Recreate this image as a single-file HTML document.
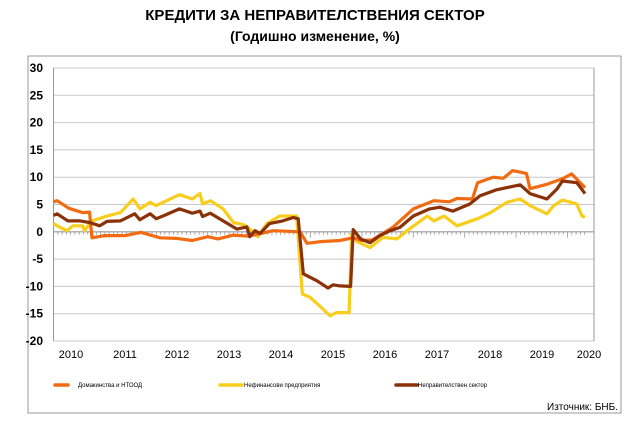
<!DOCTYPE html>
<html><head><meta charset="utf-8"><style>
body{margin:0;background:#fff;width:630px;height:422px;overflow:hidden;font-family:"Liberation Sans","Noto Sans CJK SC",sans-serif}
</style></head><body>
<svg id="c" width="630" height="422" xmlns="http://www.w3.org/2000/svg" font-family="Liberation Sans, sans-serif">
<text x="315" y="20" text-anchor="middle" font-weight="bold" font-size="15">КРЕДИТИ ЗА НЕПРАВИТЕЛСТВЕНИЯ СЕКТОР</text>
<text x="315" y="41" text-anchor="middle" font-weight="bold" font-size="14">(Годишно изменение, %)</text>
<rect x="28" y="56" width="593" height="357" fill="none" stroke="#999" stroke-width="1"/>
<g id="grid"></g><g id="axes"></g><g id="series"></g>
<g font-size="6">
<line x1="55" y1="385" x2="68" y2="385" stroke="#f26b12" stroke-width="3.5" stroke-linecap="round"/>
<text x="78" y="387">Домакинства и НТООД</text>
<line x1="220" y1="385" x2="242" y2="385" stroke="#f9cd1b" stroke-width="3.5" stroke-linecap="round"/>
<text x="244" y="387">Нефинансови предприятия</text>
<line x1="396" y1="385" x2="417" y2="385" stroke="#8b3108" stroke-width="3.5" stroke-linecap="round"/>
<text x="418" y="387">Неправителствен сектор</text>
</g>
<text x="618" y="410" text-anchor="end" font-size="10">Източник: БНБ.</text>
</svg>
<script>
const yTicks=[30,25,20,15,10,5,0,-5,-10,-15,-20];
const yearLabels=["2010","2011","2012","2013","2014","2015","2016","2017","2018","2019","2020"];
const hhT=[2010.0,2010.07,2010.3,2010.57,2010.7,2010.75,2011.0,2011.4,2011.7,2012.07,2012.4,2012.7,2013.0,2013.2,2013.5,2013.8,2014.27,2014.8,2014.93,2015.2,2015.57,2015.83,2016.0,2016.2,2016.6,2017.0,2017.4,2017.7,2017.85,2018.15,2018.25,2018.55,2018.75,2018.93,2019.2,2019.27,2019.6,2019.9,2020.08,2020.34];
const hhV=[5.5,5.7,4.3,3.5,3.6,-1.1,-0.7,-0.7,-0.1,-1.1,-1.2,-1.6,-0.9,-1.3,-0.6,-0.8,0.2,0,-2.1,-1.8,-1.6,-1.1,-1.6,-1.5,0.8,4.2,5.7,5.5,6.1,6,9,10,9.8,11.2,10.7,7.9,8.7,9.7,10.6,8.1];
const nfT=[2010.0,2010.07,2010.26,2010.38,2010.57,2010.6,2010.75,2011.04,2011.3,2011.55,2011.68,2011.88,2012.0,2012.2,2012.45,2012.7,2012.85,2012.9,2013.05,2013.3,2013.5,2013.7,2013.82,2013.98,2014.15,2014.4,2014.73,2014.84,2014.99,2015.18,2015.38,2015.5,2015.75,2015.8,2015.9,2016.16,2016.41,2016.68,2016.88,2017.27,2017.4,2017.6,2017.85,2018.25,2018.5,2018.82,2019.08,2019.27,2019.6,2019.73,2019.9,2020.18,2020.28,2020.34];
const nfV=[1.5,1.1,0.2,1.1,1.1,0.2,2,2.9,3.5,6,4.2,5.4,4.8,5.7,6.8,6,7,5.1,5.7,4.2,1.7,1.3,0.5,-0.9,1.5,2.9,2.9,-11.4,-12,-13.6,-15.4,-14.8,-14.8,-0.5,-1.8,-2.9,-1,-1.3,0.2,2.9,2,2.9,1.1,2.4,3.5,5.4,6,4.8,3.3,4.8,5.8,5.1,2.9,2.7];
const totT=[2010.0,2010.07,2010.28,2010.52,2010.7,2010.9,2011.04,2011.3,2011.58,2011.68,2011.88,2012.0,2012.13,2012.45,2012.7,2012.85,2012.9,2013.05,2013.3,2013.57,2013.76,2013.82,2013.92,2014.02,2014.2,2014.46,2014.66,2014.76,2014.86,2015.13,2015.34,2015.44,2015.57,2015.78,2015.83,2015.97,2016.16,2016.35,2016.55,2016.74,2017.0,2017.32,2017.52,2017.77,2018.1,2018.3,2018.62,2019.08,2019.27,2019.6,2019.8,2019.9,2020.18,2020.34];
const totV=[3,3.3,2,2,1.7,1.1,1.9,2,3.3,2.2,3.3,2.4,2.9,4.2,3.4,3.8,2.8,3.4,2,0.5,0.9,-0.9,0.2,-0.3,1.5,2,2.6,2.4,-7.7,-9,-10.3,-9.7,-9.9,-10,0.4,-1.3,-2,-0.7,0.2,0.8,2.9,4.2,4.5,3.8,5.1,6.6,7.7,8.6,7,6,7.9,9.3,9,7];
const X0=53.5,X1=594,Y0=341,Y1=68;
const x=t=>X0+(t-2010)*51.4;
const y=v=>Y1+(30-v)*(Y0-Y1)/50;
const NS="http://www.w3.org/2000/svg";
function mk(tag,at,parent){const e=document.createElementNS(NS,tag);for(const k in at)e.setAttribute(k,at[k]);document.getElementById(parent).appendChild(e);return e;}
yTicks.forEach(v=>{
 const g=mk("line",{x1:X0,x2:X1,y1:y(v),y2:y(v),stroke:v===0?"#999":"#c8c8c8","stroke-width":v===0?1.2:1},"grid");
 
 
 const t=mk("text",{x:43,y:y(v)+4,"text-anchor":"end","font-size":12,"font-weight":"bold"},"axes");
 t.textContent=String(v);
 
 
});
const ax=mk("line",{x1:X0,x2:X0,y1:Y1,y2:Y0,stroke:"#999"},"axes");


const rb=mk("line",{x1:X1,x2:X1,y1:Y1,y2:Y0,stroke:"#999"},"axes");


for(let m=0;m<=124;m++){
 const t=2010+m/12,xx=x(t);if(xx>X1)break;
 const major=m%12===0;
 const tk=mk("line",{x1:xx,x2:xx,y1:y(0),y2:y(0)+(major?6:3),stroke:"#999","stroke-width":0.8},"axes");
 
 
}
const labX=[71,125,177,229,281,333,385,437,490,542,589];
yearLabels.forEach((s,i)=>{
 const t=mk("text",{x:labX[i],y:358,"text-anchor":"middle","font-size":11},"axes");
 t.textContent=s;
 
 
});
function line(T,V,col,name){
 const p=mk("polyline",{points:T.map((t,i)=>x(t).toFixed(1)+","+y(V[i]).toFixed(1)).join(" "),fill:"none",stroke:col,"stroke-width":3.2,"stroke-linejoin":"round"},"series");
 
 
}
line(nfT,nfV,"#f9cd1b","series-nonfinancial");
line(hhT,hhV,"#f26b12","series-households");
line(totT,totV,"#8b3108","series-total");
</script>
</body></html>
